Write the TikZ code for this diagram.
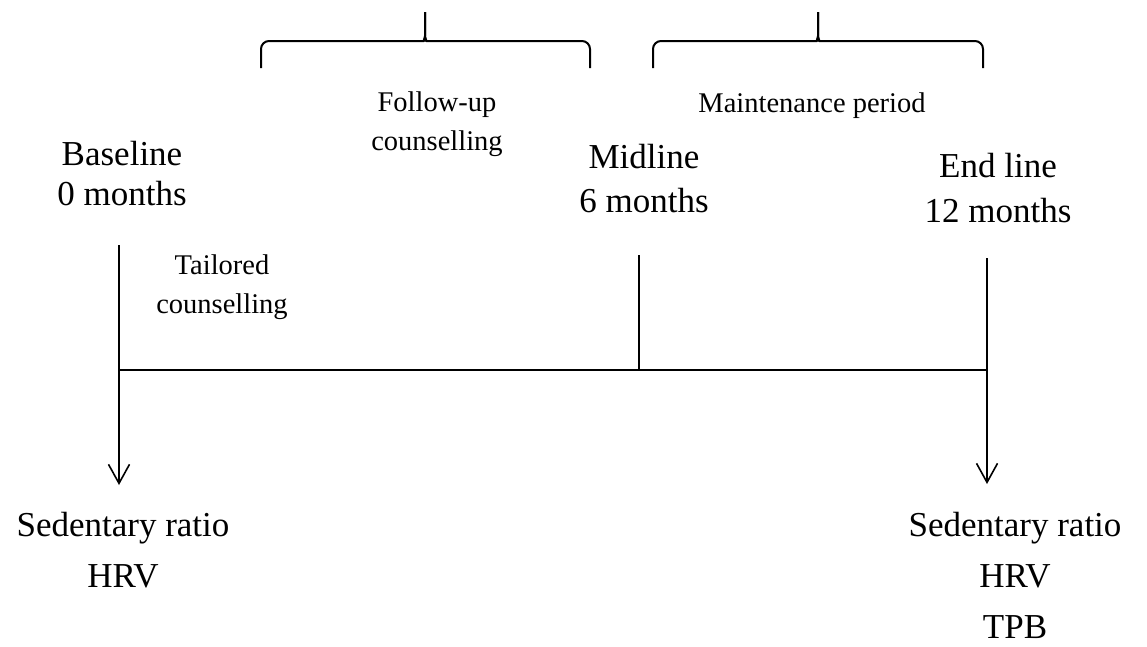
\documentclass[tikz,border=0pt]{standalone}
\usepackage{fontspec}
\setmainfont{Liberation Serif}
\usetikzlibrary{arrows.meta}
\tikzset{
  big/.style={font=\fontsize{35}{40}\selectfont, align=center, anchor=base, inner sep=0pt},
  bigwide/.style={font=\fontsize{35}{51}\selectfont, align=center, anchor=base, inner sep=0pt},
  small/.style={font=\fontsize{28.5}{39}\selectfont, align=center, anchor=base, inner sep=0pt},
  tick/.style={line width=1.6pt},
  curly/.style={line width=2pt, rounded corners=8pt}
}
\begin{document}
\begin{tikzpicture}[x=1pt, y=-1pt, >={Straight Barb[length=19pt,width=21pt]}, line join=round]
	\useasboundingbox (0,0) rectangle (1147,646);
	% time points on the line
	\coordinate (t0) at (119,370);
	\coordinate (t6) at (639,370);
	\coordinate (t12) at (987,370);
	\coordinate (top0) at (119,245);
	\coordinate (top6) at (639,255);
	\coordinate (top12) at (987,258);
	\coordinate (tip0) at (119,485);
	\coordinate (tip12) at (987,484);
	% labels (anchored on the last line)
	\node[big] (base) at (122,205) {Baseline\\0 months};
	\node[big] (mid) at (644,212) {Midline\\[4pt]6 months};
	\node[big] (endl) at (998,222) {End line\\[5pt]12 months};
	\node[small] (tail) at (222,313) {Tailored\\counselling};
	\node[small] (foll) at (437,150) {Follow-up\\counselling};
	\node[small] (maint) at (812,112) {Maintenance period};
	\node[bigwide] (sed0) at (123,587) {Sedentary ratio\\HRV};
	\node[bigwide] (sed12) at (1015,638) {Sedentary ratio\\HRV\\TPB};
	% timeline
	\draw[tick] (t0) -- (t12);
	\draw[tick] (top6) -- (t6);
	\draw[tick,->] (top0) -- (tip0);
	\draw[tick,->] (top12) -- (tip12);
	% braces
	\draw[curly] (261,68) |- (416,41) .. controls (423,41) and (425,38) .. (425,28) -- (425,12);
	\draw[curly] (590,68) |- (434,41) .. controls (427,41) and (425,38) .. (425,28) -- (425,12);
	\draw[curly] (653,68) |- (809,41) .. controls (816,41) and (818,38) .. (818,28) -- (818,12);
	\draw[curly] (983,68) |- (827,41) .. controls (820,41) and (818,38) .. (818,28) -- (818,12);
\end{tikzpicture}
\end{document}
